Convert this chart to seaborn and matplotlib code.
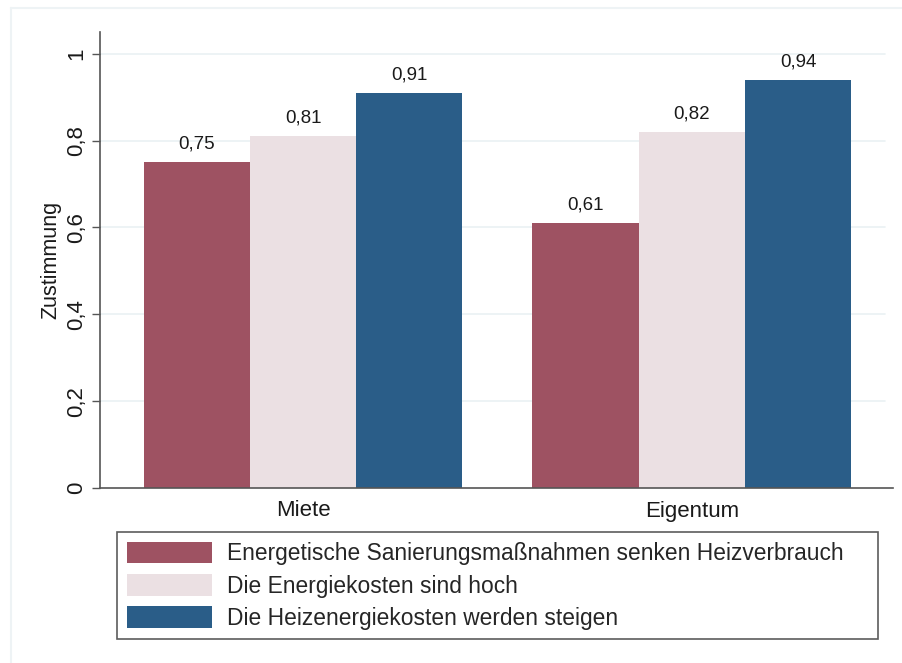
import pandas as pd
import matplotlib.pyplot as plt
import seaborn as sns
from matplotlib.patches import Rectangle
from matplotlib.lines import Line2D

# =====================================
# Data
# =====================================

groups = ["Miete", "Eigentum"]
statements = [
    "Energetische Sanierungsmaßnahmen senken Heizverbrauch",
    "Die Energiekosten sind hoch",
    "Die Heizenergiekosten werden steigen",
]
values_miete = [0.75, 0.81, 0.91]
values_eigentum = [0.61, 0.82, 0.94]
bar_colors = ["#9e5262", "#ebe0e3", "#2a5d88"]
y_ticks = [0, 0.2, 0.4, 0.6, 0.8, 1]
y_tick_labels = ["0", "0,2", "0,4", "0,6", "0,8", "1"]

df = pd.DataFrame({
    "Gruppe": [groups[0]] * 3 + [groups[1]] * 3,
    "Aussage": statements * 2,
    "Zustimmung": values_miete + values_eigentum,
})

# =====================================
# Plot
# =====================================

sns.set_style("white")
plt.rcParams["font.family"] = ["Liberation Sans", "DejaVu Sans"]

fig = plt.figure(figsize=(9.03, 6.63), dpi=100)
ax = fig.add_axes([100 / 903, 1 - 488 / 663, 793 / 903, 456 / 663])

sns.barplot(
    data=df,
    x="Gruppe",
    y="Zustimmung",
    hue="Aussage",
    order=groups,
    hue_order=statements,
    palette=bar_colors,
    width=0.82,
    saturation=1,
    errorbar=None,
    ax=ax,
    legend=False,
)

for patch in ax.patches:
    patch.set_edgecolor("none")

# value labels
for container in ax.containers:
    labels = [f"{v:.2f}".replace(".", ",") for v in container.datavalues]
    ax.bar_label(container, labels=labels, padding=7, fontsize=13.5, color="#1a1a1a")

ax.set_xlim(-0.522, 1.517)
ax.set_ylim(0, 1.05)

# grid
for y in y_ticks[1:]:
    ax.axhline(y, xmin=0, xmax=0.99, color="#eaf1f3", linewidth=1.2, zorder=0)

ax.set_yticks(y_ticks)
ax.set_yticklabels(y_tick_labels, rotation=90, va="center", fontsize=16, color="#1a1a1a")
ax.tick_params(axis="y", direction="out", length=6, width=1, color="#555555", pad=3, left=True)
ax.tick_params(axis="x", length=0, labelsize=16, labelcolor="#1a1a1a", pad=9)

ax.set_xlabel("")
ax.set_ylabel("Zustimmung", fontsize=15.5, labelpad=4, color="#1a1a1a")

for side in ["top", "right"]:
    ax.spines[side].set_visible(False)
ax.spines["left"].set_color("#555555")
ax.spines["bottom"].set_color("#555555")
ax.spines["left"].set_linewidth(1.2)
ax.spines["bottom"].set_linewidth(1.2)

# legend
handles = [Rectangle((0, 0), 1, 1, facecolor=c, edgecolor="none") for c in bar_colors]
leg = fig.legend(
    handles,
    statements,
    loc="upper left",
    bbox_to_anchor=(117 / 903, 1 - 638 / 663, 761 / 903, 106 / 663),
    mode="expand",
    ncol=1,
    frameon=True,
    fancybox=False,
    fontsize=16.4,
    handlelength=3.73,
    handleheight=1.1,
    handletextpad=0.66,
    labelspacing=0.38,
    borderpad=0.42,
    borderaxespad=0,
)
leg.get_frame().set_edgecolor("#333333")
leg.get_frame().set_linewidth(1.2)

# outer frame
fig.add_artist(Line2D([11 / 903, 11 / 903], [0, 1 - 8 / 663], color="#eef3f5", linewidth=1.5))
fig.add_artist(Line2D([11 / 903, 1], [1 - 8 / 663, 1 - 8 / 663], color="#eef3f5", linewidth=1.5))

fig.savefig("out.png", dpi=100)
